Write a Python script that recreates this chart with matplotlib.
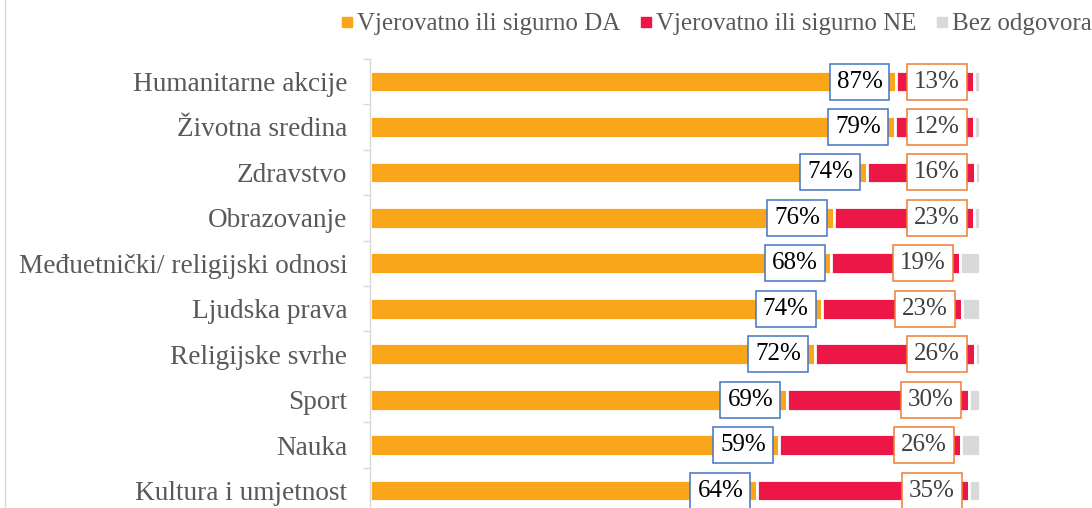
import matplotlib
matplotlib.use("Agg")
import matplotlib.pyplot as plt
from matplotlib.lines import Line2D

plt.rcParams['font.family'] = ['Liberation Serif', 'DejaVu Serif']

categories = ["Humanitarne akcije", "Životna sredina", "Zdravstvo", "Obrazovanje",
              "Međuetnički/ religijski odnosi", "Ljudska prava", "Religijske svrhe",
              "Sport", "Nauka", "Kultura i umjetnost"]
# bar segment lengths (as drawn)
da_vals = [86.3, 86.1, 81.5, 76.1, 75.7, 74.2, 73.0, 68.4, 67.2, 63.5]
ne_vals = [12.8, 13.0, 17.7, 23.0, 21.1, 23.0, 26.2, 29.8, 29.8, 34.8]
bez_vals = [0.9, 0.9, 0.8, 0.9, 3.2, 2.8, 0.8, 1.8, 3.0, 1.7]
# data label texts
da_labels = ["87%", "79%", "74%", "76%", "68%", "74%", "72%", "69%", "59%", "64%"]
ne_labels = ["13%", "12%", "16%", "23%", "19%", "23%", "26%", "30%", "26%", "35%"]
series_names = ["Vjerovatno ili sigurno DA", "Vjerovatno ili sigurno NE", "Bez odgovora"]

c_da = '#F9A61B'
c_ne = '#EC1746'
c_bez = '#D9D9D9'
W, H = 1092, 508
fig = plt.figure(figsize=(W/100, H/100), dpi=100)
top_px, bot_px = 58.8, 513.3
ax = fig.add_axes([369.5/W, (H-bot_px)/H, 610/W, (bot_px-top_px)/H])

y = list(range(len(categories)))
h = 0.48
lw = 2.0
ax.barh(y, da_vals, height=h, color=c_da, edgecolor='white', linewidth=lw)
left2 = da_vals
ax.barh(y, ne_vals, left=left2, height=h, color=c_ne, edgecolor='white', linewidth=lw)
left3 = [a + b for a, b in zip(da_vals, ne_vals)]
ax.barh(y, bez_vals, left=left3, height=h, color=c_bez, edgecolor='white', linewidth=lw)

ax.set_xlim(0, 100)
ax.set_ylim(9.5, -0.5)

for i in y:
    ax.annotate(da_labels[i], xy=(da_vals[i], i), xytext=(-13.5, 0),
                textcoords='offset pixels', ha='right', va='center',
                fontsize=18, color='black',
                bbox=dict(boxstyle='square,pad=0.28', fc='white', ec='#4472C4', lw=1.1))
    ax.annotate(ne_labels[i], xy=(left3[i], i), xytext=(-14.4, 0),
                textcoords='offset pixels', ha='right', va='center',
                fontsize=18, color='#404040',
                bbox=dict(boxstyle='square,pad=0.28', fc='white', ec='#ED7D31', lw=1.1))

for s in ['top', 'right', 'bottom']:
    ax.spines[s].set_visible(False)
ax.spines['left'].set_color('#D9D9D9')
ax.spines['left'].set_linewidth(1.0)
ax.xaxis.set_visible(False)
ax.set_yticks(y)
ax.set_yticklabels(categories, fontsize=19.6, color='#595959')
ax.tick_params(axis='y', which='major', length=0, pad=16)
ax.set_yticks([i - 0.5 for i in range(len(categories) + 1)], minor=True)
ax.tick_params(axis='y', which='minor', length=5, width=1.0, color='#D9D9D9', direction='out')

handles = [Line2D([], [], marker='s', linestyle='none', markersize=6.5, color=c)
           for c in (c_da, c_ne, c_bez)]
leg = fig.legend(handles, series_names, loc='center left',
                 bbox_to_anchor=(339.5/W, (H-24)/H), ncol=3, frameon=False,
                 fontsize=18, handlelength=0.6, handletextpad=0.1,
                 columnspacing=0.72, borderpad=0, borderaxespad=0)
for t in leg.get_texts():
    t.set_color('#595959')

fig.add_artist(Line2D([4.5/W, 4.5/W], [0, 1], transform=fig.transFigure,
                      color='#D9D9D9', lw=1.0))

fig.savefig('out.png', dpi=100)
